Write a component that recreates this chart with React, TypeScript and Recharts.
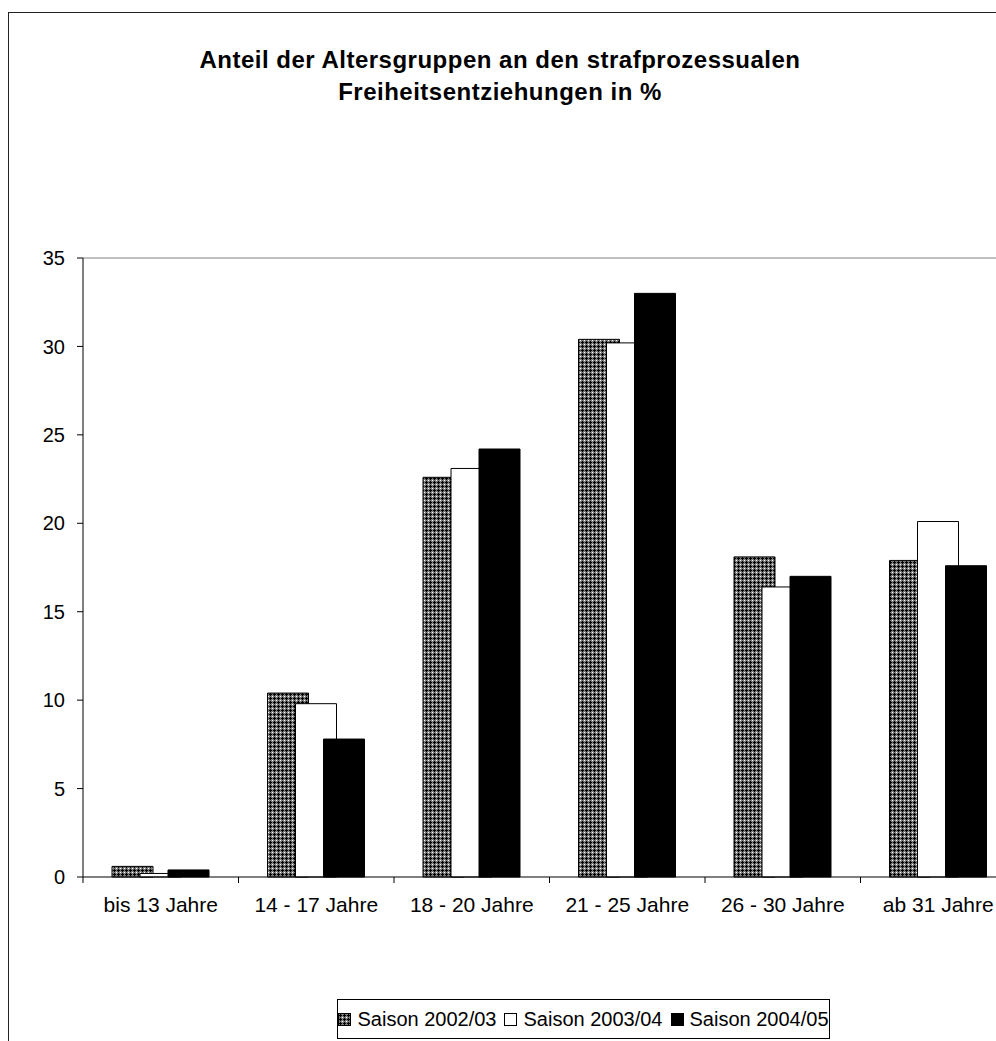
import React from 'react';
import { BarChart, Bar, XAxis, YAxis, ReferenceLine, Legend } from 'recharts';

const categories = ['bis 13 Jahre', '14 - 17 Jahre', '18 - 20 Jahre', '21 - 25 Jahre', '26 - 30 Jahre', 'ab 31 Jahre'];
const saison0203 = [0.6, 10.4, 22.6, 30.4, 18.1, 17.9];
const saison0304 = [0.2, 9.8, 23.1, 30.2, 16.4, 20.1];
const saison0405 = [0.4, 7.8, 24.2, 33.0, 17.0, 17.6];
const yTicks = [0, 5, 10, 15, 20, 25, 30, 35];

const seriesNames = ['Saison 2002/03', 'Saison 2003/04', 'Saison 2004/05'];
const seriesFills = ['url(#hatch)', '#ffffff', '#000000'];

const data = categories.map((name, i) => ({
  name,
  s0203: saison0203[i],
  s0304: saison0304[i],
  s0405: saison0405[i],
}));

const CHART_W = 1030;
const CHART_H = 1041;
const MARGIN = { top: 258, right: 14, left: 13, bottom: 104 };
const Y_W = 70;
const BAND = (CHART_W - MARGIN.left - MARGIN.right - Y_W) / categories.length;

const CategoryTick = (props: any) => {
  const { x, y, payload } = props;
  return (
    <g>
      <line x1={x - BAND / 2} x2={x - BAND / 2} y1={y - 6} y2={y} stroke="#000" />
      <text x={x} y={y + 29} textAnchor="middle" fontSize={21} fill="#000">
        {payload.value}
      </text>
    </g>
  );
};

const LegendBox = () => (
  <div
    style={{
      boxSizing: 'border-box',
      width: 493,
      height: 40,
      border: '1px solid #000',
      background: '#fff',
      display: 'flex',
      alignItems: 'center',
      justifyContent: 'center',
      fontSize: 20,
      color: '#000',
    }}
  >
    {seriesNames.map((n, i) => (
      <span key={n} style={{ display: 'inline-flex', alignItems: 'center', marginRight: i < 2 ? 8 : 0 }}>
        <svg width={13} height={13} style={{ marginRight: 6 }}>
          <rect x={0.5} y={0.5} width={12} height={12} fill={seriesFills[i]} stroke="#000" />
        </svg>
        {n}
      </span>
    ))}
  </div>
);

export default function App() {
  return (
    <div
      style={{
        position: 'fixed',
        left: 0,
        top: 0,
        width: 996,
        height: 1041,
        overflow: 'hidden',
        background: '#fff',
        fontFamily: '"Liberation Sans", Arial, sans-serif',
      }}
    >
      <div
        style={{
          position: 'absolute',
          left: 8,
          top: 12,
          width: 1200,
          height: 1200,
          border: '1px solid #222',
        }}
      />
      <div
        style={{
          position: 'absolute',
          left: 0,
          top: 44,
          width: 1000,
          textAlign: 'center',
          fontSize: 24,
          fontWeight: 'bold',
          lineHeight: '32px',
          color: '#000',
          letterSpacing: 0.5,
        }}
      >
        Anteil der Altersgruppen an den strafprozessualen
        <br />
        Freiheitsentziehungen in %
      </div>
      <div style={{ position: 'absolute', left: 0, top: 0 }}>
        <BarChart width={CHART_W} height={CHART_H} data={data} margin={MARGIN} barSize={41} barGap={-13}>
          <defs>
            <pattern id="hatch" width="4" height="4" patternUnits="userSpaceOnUse">
              <rect width="4" height="4" fill="#7a7a7a" />
              <rect x="0" y="0" width="1" height="1" fill="#ffffff" />
              <rect x="2" y="1" width="1" height="3" fill="#000000" />
              <rect x="1" y="2" width="3" height="1" fill="#000000" />
            </pattern>
          </defs>
          <XAxis
            dataKey="name"
            height={60}
            axisLine={{ stroke: '#000' }}
            tickLine={false}
            tickSize={6}
            tickMargin={0}
            interval={0}
            tick={<CategoryTick />}
          />
          <YAxis
            width={Y_W}
            domain={[0, 35]}
            ticks={yTicks}
            axisLine={{ stroke: '#000' }}
            tickLine={{ stroke: '#000' }}
            tickSize={6}
            tickMargin={12}
            tick={{ fontSize: 20, fill: '#000' }}
          />
          <ReferenceLine y={35} stroke="#808080" />
          <Bar dataKey="s0203" name={seriesNames[0]} fill={seriesFills[0]} stroke="#000" isAnimationActive={false} />
          <Bar dataKey="s0304" name={seriesNames[1]} fill={seriesFills[1]} stroke="#000" isAnimationActive={false} />
          <Bar dataKey="s0405" name={seriesNames[2]} fill={seriesFills[2]} stroke="#000" isAnimationActive={false} />
          <Legend
            layout="horizontal"
            verticalAlign="middle"
            align="center"
            wrapperStyle={{ position: 'absolute', left: 337, top: 999, width: 493, height: 40 }}
            content={() => <LegendBox />}
          />
        </BarChart>
      </div>
    </div>
  );
}
